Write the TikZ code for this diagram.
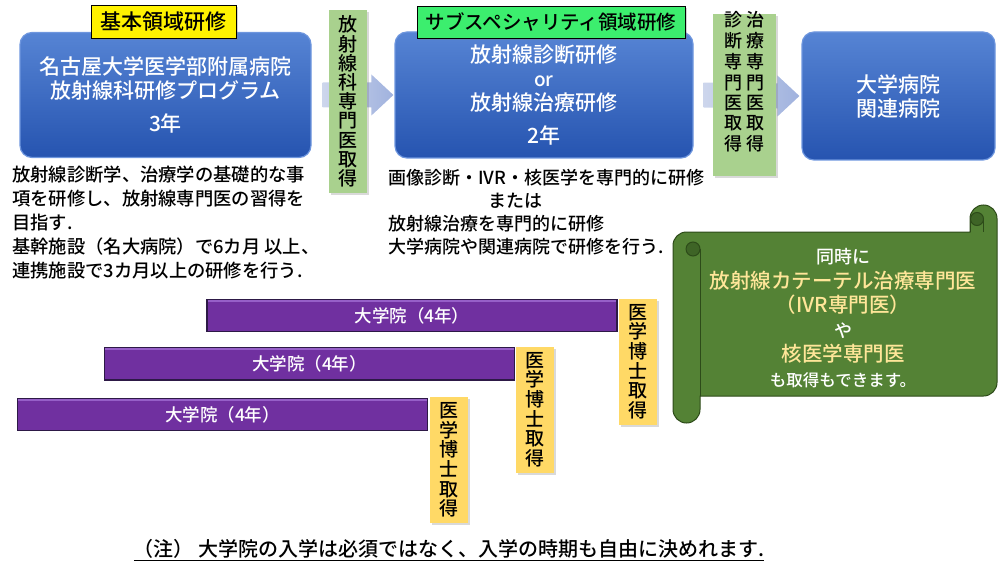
\documentclass[tikz,border=0pt]{standalone}
\usepackage{fontspec}
\setmainfont{Noto Sans CJK JP}[UprightFont=* Medium]
\usetikzlibrary{shadows,calc}
\definecolor{bluetop}{RGB}{86,132,212}
\definecolor{bluebot}{RGB}{38,84,176}
\definecolor{blueedge}{RGB}{110,150,222}
\definecolor{arrowL}{RGB}{205,214,236}
\definecolor{arrowR}{RGB}{160,178,222}
\definecolor{lgreen}{RGB}{169,209,142}
\definecolor{bgreen}{RGB}{60,238,110}
\definecolor{purp}{RGB}{112,48,160}
\definecolor{purplight}{RGB}{150,95,200}
\definecolor{purpedge}{RGB}{45,25,70}
\definecolor{ygold}{RGB}{255,217,102}
\definecolor{scrollg}{RGB}{84,130,53}
\definecolor{scrollline}{RGB}{45,75,25}
\definecolor{scrolldark}{RGB}{62,100,38}
\definecolor{cream}{RGB}{255,230,153}
\tikzset{
  bluebox/.style={rounded corners=12pt, top color=bluetop, bottom color=bluebot, draw=blueedge, line width=1.2pt, text=white, align=center, inner sep=0pt, font=\fontsize{21}{24}\selectfont},
  headtag/.style={draw=black, line width=0.8pt, inner sep=0pt, drop shadow={opacity=0.35, shadow xshift=2pt, shadow yshift=-2pt}},
  greenv/.style={fill=lgreen, inner sep=0pt, align=center, drop shadow={opacity=0.3, shadow xshift=2pt, shadow yshift=-2pt}},
  gradbar/.style={fill=purp, draw=purpedge, line width=1.2pt, minimum width=410pt, minimum height=32pt, inner sep=0pt, text=white, font=\fontsize{17.5}{20}\selectfont},
  yellowtag/.style={fill=ygold, inner sep=0pt, align=center, minimum width=38pt, minimum height=126pt, font=\fontsize{19}{19.6}\selectfont, drop shadow={opacity=0.3, shadow xshift=2pt, shadow yshift=-2pt}},
  bodytext/.style={align=left, inner sep=0pt, anchor=north west, font=\fontsize{18.3}{24}\selectfont},
  blockarrow/.style={left color=arrowL, right color=arrowR},
  scrollbody/.style={fill=scrollg, draw=scrollline, line width=1pt},
}
\begin{document}
\begin{tikzpicture}[x=1pt,y=-1pt]
\useasboundingbox (0,0) rectangle (1000,572);

% blue boxes
\node[bluebox, minimum width=291pt, minimum height=125pt] (b1) at (165.5,95)
  {名古屋大学医学部附属病院\\放射線科研修プログラム\\[9pt]3年};
\node[bluebox, minimum width=298pt, minimum height=126pt] (b2) at (544,95)
  {放射線診断研修\\{\fontsize{19}{24}\selectfont or}\\放射線治療研修\\[9pt]2年};
\node[bluebox, minimum width=193pt, minimum height=128pt] (b3) at (898.5,96)
  {大学病院\\関連病院};

% block arrows
\path[blockarrow] ($(b1.east)+(11,-12.5)$) -- ($(b2.west)+(-23,-12.5)$) -- ($(b2.west)+(-23,-20.5)$)
  -- ($(b2.west)+(-1,0)$) -- ($(b2.west)+(-23,20.5)$) -- ($(b2.west)+(-23,12.5)$)
  -- ($(b1.east)+(11,12.5)$) -- cycle;
\path[blockarrow] ($(b2.east)+(10,-12.5)$) -- ($(b3.west)+(-24,-12.5)$) -- ($(b3.west)+(-24,-20.5)$)
  -- ($(b3.west)+(-2,0)$) -- ($(b3.west)+(-24,20.5)$) -- ($(b3.west)+(-24,12.5)$)
  -- ($(b2.east)+(10,12.5)$) -- cycle;

% green vertical boxes
\node[greenv, minimum width=38pt, minimum height=183pt, font=\fontsize{19}{19.2}\selectfont] (g1) at (347.5,101.5)
  {放\\射\\線\\科\\専\\門\\医\\取\\得};
\node[greenv, minimum width=63pt, minimum height=162pt] (g2) at (744.5,95) {};
\node[inner sep=0pt, font=\fontsize{18}{19.7}\selectfont] (g2t) at (744.5,84)
  {\begin{tabular}{@{}c@{\hspace{4pt}}c@{}}%
   \begin{tabular}[t]{@{}c@{}}診\\断\\専\\門\\医\\取\\得\end{tabular} &
   \begin{tabular}[t]{@{}c@{}}治\\療\\専\\門\\医\\取\\得\end{tabular}\end{tabular}};

% header tags
\node[headtag, fill=yellow, minimum width=145pt, minimum height=33pt, font=\fontsize{21}{24}\selectfont] (t1) at (163.5,21.5) {基本領域研修};
\node[headtag, fill=bgreen, minimum width=268pt, minimum height=32pt, font=\fontsize{19.5}{22}\selectfont] (t2) at (551,22) {サブスペシャリティ領域研修};

% body texts
\node[bodytext] (d1) at (12,166)
  {放射線診断学、治療学の基礎的な事\\項を研修し、放射線専門医の習得を\\目指す.\\基幹施設（名大病院）で6カ月 以上、\\連携施設で3カ月以上の研修を行う.};
\node[bodytext, font=\fontsize{18}{23}\selectfont] (d2) at (388,169)
  {画像診断・IVR・核医学を専門的に研修\\\hspace*{100pt}または\\放射線治療を専門的に研修\\大学病院や関連病院で研修を行う.};

% scroll
\path[scrollbody] (673,245.5) arc[start angle=180, end angle=270, radius=13.5]
  -- (970,232) -- (970,218.5) arc[start angle=180, end angle=360, radius=13.5]
  -- (997,382.5) arc[start angle=0, end angle=90, radius=13.5]
  -- (700,396) -- (700,409.5) arc[start angle=0, end angle=180, radius=13.5] -- cycle;
\filldraw[fill=scrolldark, draw=scrollline, line width=1pt] (693,249) circle[radius=7];
\draw[scrollline, line width=1pt] (700,249) -- (700,396);
\filldraw[fill=scrolldark, draw=scrollline, line width=1pt] (977,219) circle[radius=6.5];
\draw[scrollline, line width=1pt] (970,218.5) -- (970,232) (983.5,219) -- (983.5,232);
\node[align=center, inner sep=0pt, font=\fontsize{20.5}{24.6}\selectfont] (st) at (843,318)
  {{\color{white}\fontsize{18}{24.6}\selectfont 同時に}\\
   {\color{cream}放射線カテーテル治療専門医}\\
   {\color{cream}（IVR専門医）}\\
   {\color{white}\fontsize{18}{24.6}\selectfont や}\\
   {\color{cream}核医学専門医}\\
   {\color{white}\fontsize{16.5}{24.6}\selectfont も取得もできます。}};

% graduate school bars
\node[gradbar] (p1) at (412,315.5) {大学院（4年）};
\node[gradbar] (p2) at (309.5,364) {大学院（4年）};
\node[gradbar] (p3) at (222.5,414.5) {大学院（4年）};
\foreach \p in {p1,p2,p3}{
  \draw[purplight, line width=2pt] ($(\p.north west)+(1.5,2)$) -- ($(\p.north east)+(-1.5,2)$);
}
\node[yellowtag] (y1) at (638,361.5) {医\\学\\博\\士\\取\\得};
\node[yellowtag] (y2) at (535,409.5) {医\\学\\博\\士\\取\\得};
\node[yellowtag] (y3) at (449,460) {医\\学\\博\\士\\取\\得};

% footnote
\node[inner sep=0pt, font=\fontsize{20}{22}\selectfont] (fn) at (449,550)
  {\underline{（注）\ 大学院の入学は必須ではなく、入学の時期も自由に決めれます.}};
\end{tikzpicture}
\end{document}
